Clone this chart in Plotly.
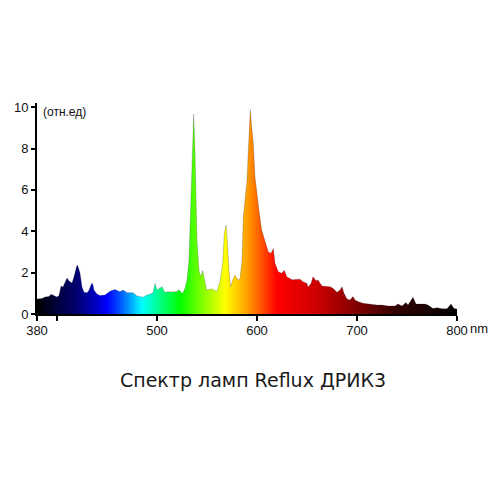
import plotly.graph_objects as go

# Spectrum (wavelength in nm, relative intensity)
wavelength = [380, 385, 388, 392, 394, 396, 400, 402, 404, 406, 409, 410, 412, 415, 417, 419, 420, 421, 423, 425,
              427, 430, 432, 434, 435, 436, 437, 440, 443, 448, 453, 458, 460, 463, 466, 470, 476, 480, 483, 486,
              490, 493, 496, 498, 500, 503, 505, 508, 510, 515, 520, 521, 523, 525, 526, 528, 530, 532, 534, 535.7,
              536.7, 538, 539, 540, 542, 543.7, 545.7, 547.3, 549.7, 553, 556, 559.7, 563, 565.7, 567.3, 569, 570.3, 572, 573.7, 575.7,
              578, 581, 583, 585, 586.3, 588, 590, 591.3, 592.7, 593.3, 594.7, 596.3, 598, 600, 602, 604.7, 608, 611.3, 614, 616.3,
              618, 621.3, 624.7, 627.3, 629.7, 635, 643, 646, 650, 651, 654, 656, 659, 661, 665, 670, 673, 676, 680, 683,
              685, 687, 690, 693, 696, 698, 701, 706, 713, 720, 725, 731, 738, 741, 745, 749, 751, 756, 759, 763,
              768, 771, 776, 780, 785, 790, 794, 797, 800]
intensity = [0.72, 0.75, 0.82, 0.84, 0.95, 0.9, 0.82, 0.9, 1.35, 1.3, 1.6, 1.74, 1.6, 1.5, 1.8, 2.2, 2.37, 2.3, 1.98, 1.3,
             1.05, 1.03, 1.15, 1.4, 1.5, 1.4, 1.15, 0.97, 0.9, 0.92, 1.1, 1.19, 1.15, 1.08, 1.16, 1.03, 1.03, 0.87, 0.85, 0.81,
             0.92, 0.95, 1.03, 1.48, 1.16, 1.24, 1.32, 1.03, 1.08, 1.06, 1.08, 1.16, 1.12, 1.0, 1.03, 1.24, 1.64, 2.6, 5.67, 8.7,
             9.66, 7.9, 5.0, 3.57, 2.1, 1.8, 2.1, 1.64, 1.16, 1.2, 1.2, 1.08, 1.56, 2.46, 3.9, 4.3, 3.57, 2.1, 1.32, 1.64,
             1.88, 1.64, 1.7, 2.6, 4.7, 5.5, 6.47, 7.9, 9.37, 9.89, 9.05, 8.25, 6.63, 5.67, 5.0, 4.06, 3.57, 3.0, 2.94, 3.17,
             2.45, 2.04, 1.97, 2.12, 1.8, 1.66, 1.68, 1.56, 1.48, 1.29, 1.48, 1.8, 1.61, 1.64, 1.35, 1.32, 1.32, 1.24, 1.05, 1.16,
             1.32, 1.0, 0.72, 0.68, 0.84, 0.68, 0.6, 0.52, 0.47, 0.43, 0.43, 0.39, 0.39, 0.48, 0.39, 0.55, 0.43, 0.81, 0.48, 0.48,
             0.48, 0.43, 0.27, 0.3, 0.25, 0.25, 0.48, 0.27, 0.24]

x_tick_vals = [380, 400, 500, 600, 700, 800]
x_tick_text = ["380", "", "500", "600", "700", "800"]
y_tick_vals = [0, 2, 4, 6, 8, 10]
y_tick_text = ["0", "2", "4", "6", "8", "10"]

# wavelength -> colour stops
color_nm = [380, 400, 420, 440, 450, 465, 485, 500, 523, 545, 568, 590, 620, 660, 700, 740, 800]
color_hex = ["#000000", "#00003c", "#000070", "#0000c8", "#0000ff", "#0060ff", "#00ffff", "#00ff99", "#00ff00",
             "#80ff00", "#ffff00", "#ffa000", "#ff0000", "#cc0000", "#800000", "#300000", "#000000"]
x_min, x_max = 380, 800
colorscale = [[(n - x_min) / (x_max - x_min), c] for n, c in zip(color_nm, color_hex)]

fig = go.Figure()
fig.add_trace(go.Scatter(
    x=wavelength, y=intensity, mode="lines", fill="tozeroy",
    line=dict(width=0.6, color="rgba(20,20,40,0.35)"),
    fillgradient=dict(type="horizontal", colorscale=colorscale, start=x_min, stop=x_max),
    hoverinfo="skip", showlegend=False,
))

fig.update_layout(
    width=500, height=500,
    margin=dict(l=29, r=51, t=95, b=194, autoexpand=False),
    paper_bgcolor="white", plot_bgcolor="white",
    font=dict(family="Liberation Sans, Arial, sans-serif", size=13, color="#111"),
    title=dict(text="Спектр ламп Reflux ДРИК3", x=0.49, xanchor="center", y=0.256, yanchor="middle",
               font=dict(family="DejaVu Sans", size=19, color="#1a1a1a")),
    xaxis=dict(range=[x_min, x_max], tickvals=x_tick_vals, ticktext=x_tick_text, showgrid=False, zeroline=False,
               showline=True, linecolor="black", linewidth=2, ticks="outside", ticklen=5, tickwidth=1.5,
               ticklabelstandoff=-2,
               tickcolor="black", fixedrange=True, automargin=False),
    yaxis=dict(range=[0, 10.2], tickvals=y_tick_vals, ticktext=y_tick_text, showgrid=False, zeroline=False,
               showline=True, linecolor="black", linewidth=2, ticks="outside", ticklen=4, tickwidth=1.5,
               tickcolor="black", fixedrange=True, automargin=False),
    annotations=[
        dict(text="nm", x=800, xref="x", y=0, yref="paper", xanchor="left", yanchor="top",
             xshift=11, yshift=-5, showarrow=False, font=dict(size=13, color="#111")),
        dict(text="(отн.ед)", x=0, xref="paper", y=10, yref="y", xanchor="left", yanchor="middle",
             xshift=4, yshift=-5, showarrow=False, font=dict(size=12, color="#111")),
    ],
)

fig.write_html("out.html")
